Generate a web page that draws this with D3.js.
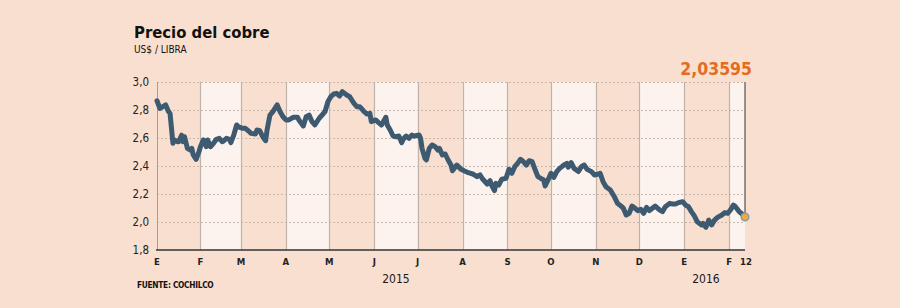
<!DOCTYPE html>
<html>
<head>
<meta charset="utf-8">
<script src="https://cdn.jsdelivr.net/npm/d3@7"></script>
<style>
  body { margin: 0; background: #f9dfcf; }
  svg { display: block; }
</style>
</head>
<body>
<div id="chart"></div>
<script>
// CONSTANTS
const width = 900;
const height = 308;
const bgColor = "#f9dfcf";
const bandColor = "#fdf3ee";
const lineColor = "#3e5a71";
const orange = "#e46c1e";
const gridColor = "#c9b9ad";
const font = "'DejaVu Sans Condensed', 'DejaVu Sans', sans-serif";
const plot = { left: 157, right: 745, top: 82, bottom: 250 };

// data: copper price, US$ / lb
const dates = [
  "2015-01-02", "2015-01-04", "2015-01-06", "2015-01-08", "2015-01-10", "2015-01-11", "2015-01-13", "2015-01-14",
  "2015-01-16", "2015-01-17", "2015-01-19", "2015-01-20", "2015-01-21", "2015-01-23", "2015-01-25", "2015-01-26",
  "2015-01-27", "2015-01-29", "2015-01-31", "2015-02-01", "2015-02-03", "2015-02-04", "2015-02-05", "2015-02-06",
  "2015-02-08", "2015-02-10", "2015-02-12", "2015-02-14", "2015-02-16", "2015-02-17", "2015-02-19", "2015-02-21",
  "2015-02-22", "2015-02-24", "2015-02-26", "2015-02-27", "2015-03-02", "2015-03-04", "2015-03-06", "2015-03-08",
  "2015-03-11", "2015-03-12", "2015-03-14", "2015-03-16", "2015-03-18", "2015-03-19", "2015-03-21", "2015-03-23",
  "2015-03-26", "2015-03-28", "2015-03-30", "2015-04-01", "2015-04-03", "2015-04-06", "2015-04-09", "2015-04-10",
  "2015-04-13", "2015-04-15", "2015-04-17", "2015-04-19", "2015-04-21", "2015-04-24", "2015-04-26", "2015-04-28",
  "2015-04-30", "2015-05-02", "2015-05-04", "2015-05-06", "2015-05-08", "2015-05-10", "2015-05-13", "2015-05-15",
  "2015-05-18", "2015-05-20", "2015-05-22", "2015-05-25", "2015-05-27", "2015-05-29", "2015-05-30", "2015-06-02",
  "2015-06-04", "2015-06-06", "2015-06-09", "2015-06-10", "2015-06-12", "2015-06-14", "2015-06-16", "2015-06-18",
  "2015-06-20", "2015-06-21", "2015-06-23", "2015-06-25", "2015-06-27", "2015-06-29", "2015-07-02", "2015-07-03",
  "2015-07-04", "2015-07-06", "2015-07-07", "2015-07-09", "2015-07-11", "2015-07-13", "2015-07-15", "2015-07-16",
  "2015-07-18", "2015-07-20", "2015-07-22", "2015-07-24", "2015-07-25", "2015-07-28", "2015-07-31", "2015-08-02",
  "2015-08-05", "2015-08-08", "2015-08-11", "2015-08-13", "2015-08-15", "2015-08-18", "2015-08-20", "2015-08-21",
  "2015-08-23", "2015-08-24", "2015-08-26", "2015-08-28", "2015-08-31", "2015-09-02", "2015-09-04", "2015-09-06",
  "2015-09-08", "2015-09-10", "2015-09-12", "2015-09-14", "2015-09-16", "2015-09-18", "2015-09-20", "2015-09-22",
  "2015-09-24", "2015-09-26", "2015-09-27", "2015-09-29", "2015-10-01", "2015-10-03", "2015-10-05", "2015-10-07",
  "2015-10-10", "2015-10-12", "2015-10-13", "2015-10-15", "2015-10-17", "2015-10-20", "2015-10-22", "2015-10-24",
  "2015-10-26", "2015-10-29", "2015-10-31", "2015-11-02", "2015-11-04", "2015-11-06", "2015-11-08", "2015-11-11",
  "2015-11-14", "2015-11-16", "2015-11-19", "2015-11-20", "2015-11-22", "2015-11-24", "2015-11-26", "2015-11-28",
  "2015-11-30", "2015-12-02", "2015-12-04", "2015-12-06", "2015-12-08", "2015-12-10", "2015-12-12", "2015-12-15",
  "2015-12-17", "2015-12-19", "2015-12-22", "2015-12-24", "2015-12-26", "2015-12-28", "2015-12-31", "2016-01-02",
  "2016-01-04", "2016-01-06", "2016-01-08", "2016-01-10", "2016-01-13", "2016-01-14", "2016-01-16", "2016-01-18",
  "2016-01-20", "2016-01-22", "2016-01-24", "2016-01-27", "2016-01-29", "2016-01-31", "2016-02-02", "2016-02-04",
  "2016-02-05", "2016-02-08", "2016-02-10", "2016-02-11", "2016-02-12"
];
const prices = [
  2.866, 2.812, 2.824, 2.836, 2.788, 2.776, 2.562, 2.586,
  2.574, 2.574, 2.62, 2.574, 2.609, 2.526, 2.514, 2.526,
  2.479, 2.448, 2.502, 2.538, 2.586, 2.574, 2.538, 2.586,
  2.538, 2.562, 2.591, 2.598, 2.574, 2.579, 2.598, 2.591,
  2.567, 2.621, 2.693, 2.681, 2.669, 2.669, 2.652, 2.633,
  2.629, 2.657, 2.652, 2.609, 2.581, 2.657, 2.764, 2.788,
  2.836, 2.788, 2.752, 2.729, 2.729, 2.748, 2.748, 2.729,
  2.686, 2.752, 2.764, 2.717, 2.693, 2.741, 2.764, 2.788,
  2.859, 2.895, 2.914, 2.919, 2.9, 2.931, 2.907, 2.895,
  2.848, 2.824, 2.824, 2.788, 2.771, 2.776, 2.717, 2.729,
  2.71, 2.693, 2.748, 2.693, 2.657, 2.614, 2.609, 2.614,
  2.567, 2.591, 2.614, 2.598, 2.621, 2.614, 2.621, 2.598,
  2.526, 2.455, 2.443, 2.526, 2.55, 2.538, 2.514, 2.526,
  2.479, 2.486, 2.443, 2.407, 2.366, 2.407, 2.376, 2.366,
  2.352, 2.343, 2.324, 2.336, 2.305, 2.271, 2.295, 2.264,
  2.224, 2.276, 2.264, 2.305, 2.312, 2.376, 2.348, 2.395,
  2.419, 2.448, 2.431, 2.407, 2.438, 2.431, 2.376, 2.324,
  2.312, 2.3, 2.257, 2.3, 2.348, 2.319, 2.36, 2.383,
  2.407, 2.419, 2.391, 2.424, 2.383, 2.36, 2.395, 2.407,
  2.376, 2.36, 2.336, 2.341, 2.348, 2.288, 2.252, 2.229,
  2.176, 2.133, 2.109, 2.098, 2.05, 2.062, 2.114, 2.098,
  2.081, 2.091, 2.062, 2.105, 2.081, 2.098, 2.114, 2.086,
  2.074, 2.109, 2.133, 2.129, 2.129, 2.138, 2.145, 2.121,
  2.109, 2.074, 2.043, 2.002, 1.979, 1.99, 1.962, 2.014,
  1.979, 2.014, 2.033, 2.05, 2.067, 2.062, 2.086, 2.121,
  2.114, 2.074, 2.057, 2.045, 2.03595
];
const yTicks = [1.8, 2.0, 2.2, 2.4, 2.6, 2.8, 3.0];
const monthLabels = ["E", "F", "M", "A", "M", "J", "J", "A", "S", "O", "N", "D", "E", "F"];
const years = [
  { label: "2015", date: "2015-06-16" },
  { label: "2016", date: "2016-01-16" },
];
const lastLabel = "12";
const lastValueText = "2,03595";

const parse = d3.timeParse("%Y-%m-%d");
const data = dates.map((d, i) => ({ date: parse(d), value: prices[i] }));
const last = data[data.length - 1];

const esLocale = d3.formatLocale({ decimal: ",", thousands: ".", grouping: [3], currency: ["$", ""] });
const fmt = esLocale.format(".1f");

// SCALES
const x = d3
  .scaleTime()
  .domain(d3.extent(data, (d) => d.date))
  .range([plot.left, plot.right])
  .clamp(true);

const y = d3.scaleLinear().domain([1.8, 3.0]).range([plot.bottom, plot.top]);

const monthStarts = d3.timeMonth.range(new Date(2015, 0, 1), new Date(2016, 2, 1));

const svg = d3
  .select("#chart")
  .append("svg")
  .attr("width", width)
  .attr("height", height)
  .attr("viewBox", [0, 0, width, height]);

svg.append("rect").attr("width", width).attr("height", height).attr("fill", bgColor);

// alternate month bands
svg
  .selectAll(".band")
  .data(monthStarts.filter((d, i) => i % 2 === 1))
  .join("rect")
  .attr("class", "band")
  .attr("x", (d) => x(d))
  .attr("y", y(3.0))
  .attr("width", (d) => x(d3.timeMonth.offset(d, 1)) - x(d))
  .attr("height", y(1.8) - y(3.0))
  .attr("fill", bandColor);

// gridlines
svg
  .selectAll(".grid")
  .data(yTicks.filter((d) => d > 1.8))
  .join("line")
  .attr("class", "grid")
  .attr("x1", plot.left)
  .attr("x2", plot.right)
  .attr("y1", (d) => y(d) + 0.5)
  .attr("y2", (d) => y(d) + 0.5)
  .attr("stroke", gridColor)
  .attr("stroke-width", 1)
  .attr("stroke-dasharray", "2,2");

// month separators
svg
  .selectAll(".sep")
  .data(monthStarts.slice(1, 14))
  .join("line")
  .attr("class", "sep")
  .attr("x1", (d) => Math.round(x(d)) + 0.5)
  .attr("x2", (d) => Math.round(x(d)) + 0.5)
  .attr("y1", y(3.0))
  .attr("y2", y(1.8))
  .attr("stroke", "#bfb2a8")
  .attr("stroke-width", 1.2);

// y axis line
svg
  .append("line")
  .attr("x1", plot.left + 0.5)
  .attr("x2", plot.left + 0.5)
  .attr("y1", y(3.0))
  .attr("y2", y(1.8))
  .attr("stroke", "#a99c93");

// end marker line
svg
  .append("line")
  .attr("x1", x(last.date))
  .attr("x2", x(last.date))
  .attr("y1", y(3.0))
  .attr("y2", y(last.value))
  .attr("stroke", "#333")
  .attr("stroke-width", 1);

// y labels
const yAxis = svg
  .append("g")
  .attr("transform", `translate(${plot.left - 8},0)`)
  .call(d3.axisLeft(y).tickValues(yTicks).tickFormat(fmt).tickSize(0).tickPadding(0));
yAxis.select(".domain").remove();
yAxis
  .selectAll("text")
  .attr("font-family", font)
  .attr("font-size", 11.5)
  .attr("fill", "#222");

// x axis baseline
svg
  .append("line")
  .attr("x1", plot.left - 1)
  .attr("x2", x(last.date))
  .attr("y1", plot.bottom)
  .attr("y2", plot.bottom)
  .attr("stroke", "#333")
  .attr("stroke-width", 1.6);

// month labels
svg
  .selectAll(".month")
  .data(monthStarts.slice(0, 14))
  .join("text")
  .attr("class", "month")
  .attr("x", (d) => x(d))
  .attr("y", 265)
  .attr("text-anchor", "middle")
  .attr("font-family", font)
  .attr("font-size", 9.5)
  .attr("font-weight", "bold")
  .attr("fill", "#222")
  .text((d, i) => monthLabels[i]);

svg
  .append("text")
  .attr("x", x(last.date) + 1)
  .attr("y", 265)
  .attr("text-anchor", "middle")
  .attr("font-family", font)
  .attr("font-size", 9.5)
  .attr("font-weight", "bold")
  .attr("fill", "#222")
  .text(lastLabel);

// year labels
svg
  .selectAll(".year")
  .data(years)
  .join("text")
  .attr("class", "year")
  .attr("x", (d) => x(parse(d.date)))
  .attr("y", 283)
  .attr("text-anchor", "middle")
  .attr("font-family", font)
  .attr("font-size", 12)
  .attr("fill", "#1a1a1a")
  .text((d) => d.label);

// price line
const line = d3
  .line()
  .x((d) => x(d.date))
  .y((d) => y(d.value))
  .curve(d3.curveLinear);

svg
  .append("path")
  .datum(data)
  .attr("fill", "none")
  .attr("stroke", lineColor)
  .attr("stroke-width", 5)
  .attr("stroke-linejoin", "round")
  .attr("stroke-linecap", "round")
  .attr("d", line);

// last point
svg
  .append("circle")
  .attr("cx", x(last.date))
  .attr("cy", y(last.value))
  .attr("r", 3.8)
  .attr("fill", "#f2a93b")
  .attr("stroke", "#8d9ba6")
  .attr("stroke-width", 1.5);

// last value
svg
  .append("text")
  .attr("x", 752)
  .attr("y", 75)
  .attr("text-anchor", "end")
  .attr("font-family", font)
  .attr("font-size", 17.5)
  .attr("font-weight", "bold")
  .attr("fill", orange)
  .text(lastValueText);

// title
svg
  .append("text")
  .attr("x", 134)
  .attr("y", 38)
  .attr("font-family", font)
  .attr("font-size", 16.5)
  .attr("font-weight", "bold")
  .attr("fill", "#111")
  .text("Precio del cobre");

svg
  .append("text")
  .attr("x", 134)
  .attr("y", 53)
  .attr("font-family", font)
  .attr("font-size", 10)
  .attr("fill", "#111")
  .text("US$ / LIBRA");

// source
svg
  .append("text")
  .attr("x", 137)
  .attr("y", 288)
  .attr("font-family", font)
  .attr("font-size", 8.3)
  .attr("font-weight", "bold")
  .attr("letter-spacing", -0.3)
  .attr("fill", "#111")
  .text("FUENTE: COCHILCO");
</script>
</body>
</html>
